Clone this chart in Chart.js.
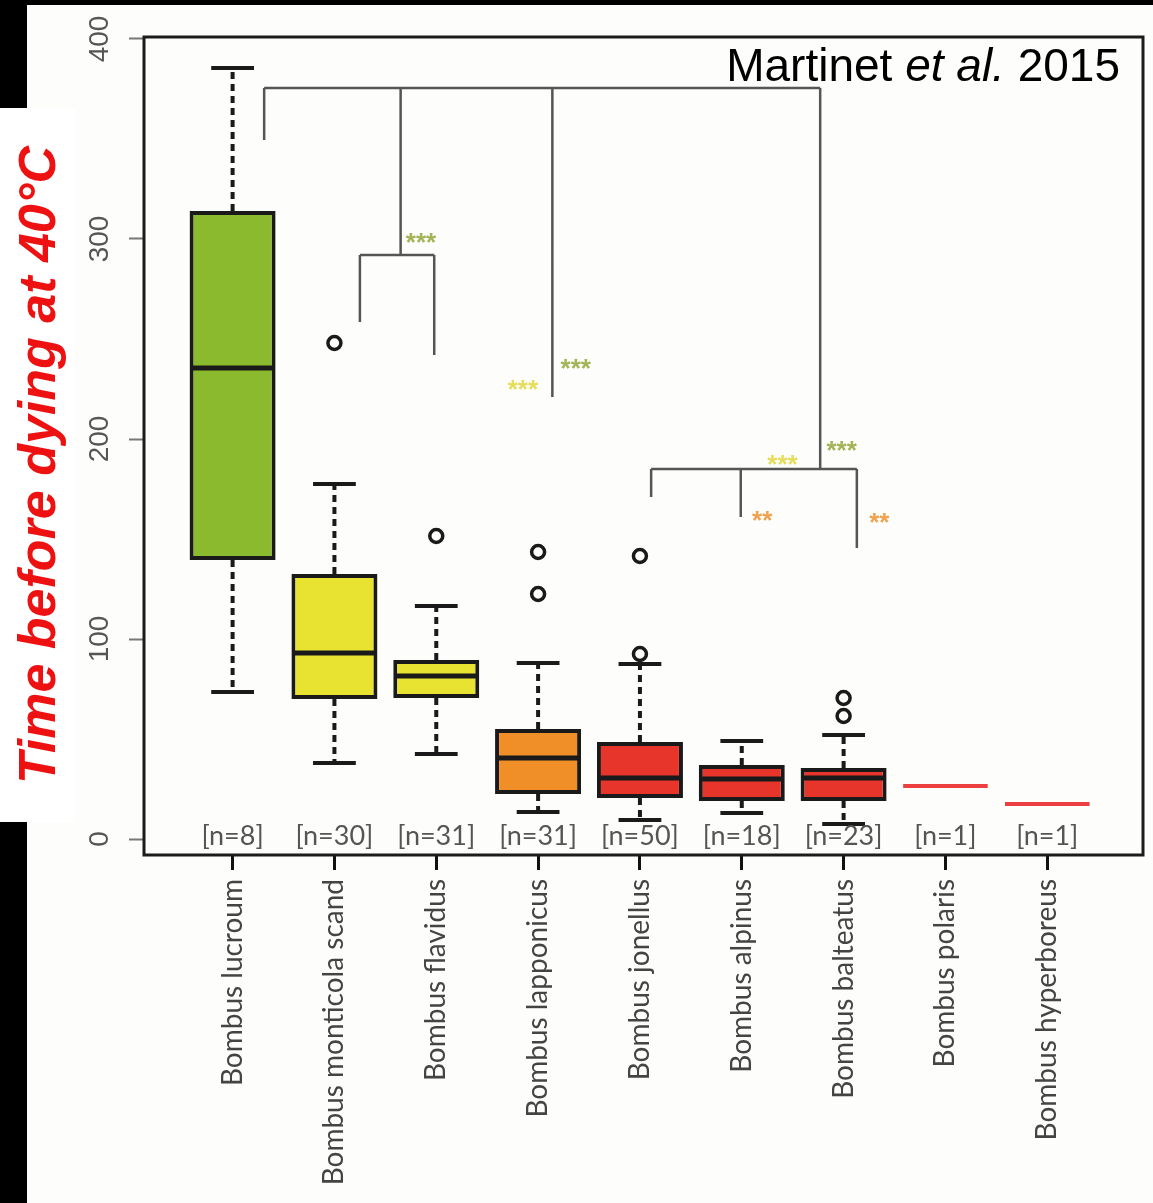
<!DOCTYPE html>
<html>
<head>
<meta charset="utf-8">
<script src="https://cdn.jsdelivr.net/npm/chart.js@4/dist/chart.umd.min.js"></script>
<style>
  html, body { margin: 0; padding: 0; background: #fdfdfb; }
  #wrap { width: 1153px; height: 1203px; position: relative; }
  canvas { display: block; }
</style>
</head>
<body>
<div id="wrap"><canvas id="c" width="1153" height="1203" style="width:1153px;height:1203px"></canvas></div>
<script>
// Survival time (minutes) before dying at 40°C, per bumblebee species
const species = [
  'Bombus lucroum', 'Bombus monticola scand', 'Bombus flavidus', 'Bombus lapponicus',
  'Bombus jonellus', 'Bombus alpinus', 'Bombus balteatus', 'Bombus polaris', 'Bombus hyperboreus'
];
const sampleSizes   = [8, 30, 31, 31, 50, 18, 23, 1, 1];
const lowerWhisker  = [73.5, 38, 42.5, 13.5, 9.5, 13, 7.5, null, null];
const lowerQuartile = [139.5, 70, 70.5, 22.5, 20.5, 19, 19, null, null];
const medians       = [235.5, 93, 81.5, 40.5, 30.5, 30, 30.5, 26.5, 17.5];
const upperQuartile = [314, 132.5, 89.5, 55, 48.5, 37, 35.5, null, null];
const upperWhisker  = [385.5, 177.5, 116.5, 88, 87.5, 49, 52, null, null];
const outliers      = [[], [248], [151.5], [143.5, 122.5], [141.5, 92.5], [], [70.5, 61.5], [], []];
const boxColors     = ['#8cba2e', '#e8e230', '#e8e230', '#f08f28', '#e8352c', '#e8352c', '#e8352c', '#ec4040', '#ec4040'];
const yTicks        = [0, 100, 200, 300, 400];

// Significance brackets: segments given as [x1, y1, x2, y2] in category / value units
const bracketSegments = [
  [1.31, 375.5, 6.77, 375.5],
  [1.31, 375.5, 1.31, 349.5],
  [2.65, 375.5, 2.65, 292],
  [4.14, 375.5, 4.14, 221],
  [6.77, 375.5, 6.77, 185],
  [2.25, 292, 2.98, 292],
  [2.25, 292, 2.25, 258.5],
  [2.98, 292, 2.98, 242],
  [5.11, 185, 7.13, 185],
  [5.11, 185, 5.11, 171],
  [5.99, 185, 5.99, 161],
  [7.13, 185, 7.13, 145.5]
];
const starLabels = [
  { x: 2.85, y: 301,   text: '***', color: '#a2b456' },
  { x: 3.85, y: 227.5, text: '***', color: '#e6de5a' },
  { x: 4.37, y: 238,   text: '***', color: '#a2b456' },
  { x: 6.40, y: 190,   text: '***', color: '#e6de5a' },
  { x: 6.98, y: 197,   text: '***', color: '#a2b456' },
  { x: 6.20, y: 162,   text: '**',  color: '#f0a24e' },
  { x: 7.35, y: 161,   text: '**',  color: '#f0a24e' }
];

const boxData = [];
species.forEach((s, i) => {
  if (lowerQuartile[i] !== null) boxData.push({ x: i + 1, y: [lowerQuartile[i], upperQuartile[i]] });
});
const outlierPoints = [];
outliers.forEach((list, i) => list.forEach(v => outlierPoints.push({ x: i + 1, y: v })));

const BOX_W = 0.83;   // box width in category units
const CAP_W = 0.42;   // whisker cap width in category units

const pagePlugin = {
  id: 'page',
  beforeDraw(chart) {
    const ctx = chart.ctx;
    ctx.save();
    ctx.fillStyle = '#fdfdfb';
    ctx.fillRect(0, 0, chart.width, chart.height);
    ctx.fillStyle = '#000';
    ctx.fillRect(0, 0, chart.width, 5);
    ctx.fillRect(0, 0, 27, 108);
    ctx.fillRect(0, 822, 27, chart.height - 822);
    ctx.fillStyle = '#ffffff';
    ctx.fillRect(0, 108, 75, 714);
    ctx.restore();
  }
};

const boxPlugin = {
  id: 'boxParts',
  beforeDatasetsDraw(chart) {
    const { ctx, scales: { x, y } } = chart;
    ctx.save();
    ctx.strokeStyle = '#1a1a1a';
    ctx.lineWidth = 4;
    species.forEach((s, i) => {
      if (lowerQuartile[i] === null) return;
      const cx = x.getPixelForValue(i + 1);
      const hw = (x.getPixelForValue(i + 1 + CAP_W / 2) - cx);
      ctx.setLineDash([7, 5]);
      ctx.beginPath();
      ctx.moveTo(cx, y.getPixelForValue(upperQuartile[i]));
      ctx.lineTo(cx, y.getPixelForValue(upperWhisker[i]));
      ctx.moveTo(cx, y.getPixelForValue(lowerQuartile[i]));
      ctx.lineTo(cx, y.getPixelForValue(lowerWhisker[i]));
      ctx.stroke();
      ctx.setLineDash([]);
      ctx.beginPath();
      ctx.moveTo(cx - hw, y.getPixelForValue(upperWhisker[i]));
      ctx.lineTo(cx + hw, y.getPixelForValue(upperWhisker[i]));
      ctx.moveTo(cx - hw, y.getPixelForValue(lowerWhisker[i]));
      ctx.lineTo(cx + hw, y.getPixelForValue(lowerWhisker[i]));
      ctx.stroke();
    });
    ctx.restore();
  },
  afterDatasetsDraw(chart) {
    const { ctx, scales: { x, y }, chartArea } = chart;
    ctx.save();
    // medians
    species.forEach((s, i) => {
      const cx = x.getPixelForValue(i + 1);
      const hw = x.getPixelForValue(i + 1 + BOX_W / 2) - cx;
      const py = y.getPixelForValue(medians[i]);
      const single = lowerQuartile[i] === null;
      ctx.strokeStyle = single ? boxColors[i] : '#1a1a1a';
      ctx.lineWidth = single ? 4 : 5;
      ctx.beginPath();
      ctx.moveTo(cx - hw + (single ? 0 : 2), py);
      ctx.lineTo(cx + hw - (single ? 0 : 2), py);
      ctx.stroke();
    });
    // brackets
    ctx.strokeStyle = '#555';
    ctx.lineWidth = 2.5;
    ctx.beginPath();
    bracketSegments.forEach(([x1, y1, x2, y2]) => {
      ctx.moveTo(x.getPixelForValue(x1), y.getPixelForValue(y1));
      ctx.lineTo(x.getPixelForValue(x2), y.getPixelForValue(y2));
    });
    ctx.stroke();
    // significance stars
    ctx.font = 'bold 26px "Liberation Sans", Arial, sans-serif';
    ctx.textAlign = 'center';
    ctx.textBaseline = 'middle';
    starLabels.forEach(st => {
      ctx.fillStyle = st.color;
      ctx.fillText(st.text, x.getPixelForValue(st.x), y.getPixelForValue(st.y) + 7);
    });
    // sample sizes
    ctx.fillStyle = '#555';
    ctx.font = '27px Lato, "Open Sans", sans-serif';
    sampleSizes.forEach((n, i) => {
      ctx.fillText('[n=' + n + ']', x.getPixelForValue(i + 1), y.getPixelForValue(1.5));
    });
    // frame
    ctx.strokeStyle = '#1c1c1c';
    ctx.lineWidth = 3;
    ctx.strokeRect(chartArea.left, chartArea.top, chartArea.right - chartArea.left, chartArea.bottom - chartArea.top);
    ctx.restore();
  },
  afterDraw(chart) {
    const { ctx, scales: { y } } = chart;
    ctx.save();
    // y tick labels, rotated
    ctx.fillStyle = '#555';
    ctx.font = '28px "Liberation Sans", Arial, sans-serif';
    ctx.textAlign = 'center';
    ctx.textBaseline = 'alphabetic';
    y.ticks.forEach(t => {
      ctx.save();
      ctx.translate(108, y.getPixelForValue(t.value));
      ctx.rotate(-Math.PI / 2);
      ctx.fillText(String(t.value), 0, 0);
      ctx.restore();
    });
    // y axis title
    ctx.save();
    ctx.fillStyle = '#ee1111';
    ctx.font = 'italic bold 52px "Liberation Sans", Arial, sans-serif';
    ctx.translate(55, 465);
    ctx.rotate(-Math.PI / 2);
    ctx.fillText('Time before dying at 40°C', 0, 0);
    ctx.restore();
    // citation
    const parts = [
      { t: 'Martinet ', f: '46px "Liberation Sans", Arial, sans-serif' },
      { t: 'et al.', f: 'italic 46px "Liberation Sans", Arial, sans-serif' },
      { t: ' 2015', f: '46px "Liberation Sans", Arial, sans-serif' }
    ];
    ctx.fillStyle = '#000';
    ctx.textAlign = 'left';
    let total = 0;
    parts.forEach(p => { ctx.font = p.f; p.w = ctx.measureText(p.t).width; total += p.w; });
    let cx = 1120 - total;
    parts.forEach(p => { ctx.font = p.f; ctx.fillText(p.t, cx, 81); cx += p.w; });
    ctx.restore();
  }
};

new Chart(document.getElementById('c'), {
  data: {
    datasets: [
      {
        type: 'bar',
        data: boxData,
        backgroundColor: boxColors.slice(0, boxData.length),
        borderColor: '#1a1a1a',
        borderWidth: 4,
        borderSkipped: false,
        barThickness: 86,
        inflateAmount: 0,
        order: 2
      },
      {
        type: 'scatter',
        data: outlierPoints,
        pointStyle: 'circle',
        pointRadius: 6.5,
        pointBorderWidth: 3.5,
        pointBorderColor: '#1a1a1a',
        pointBackgroundColor: 'rgba(0,0,0,0)',
        order: 1
      }
    ]
  },
  options: {
    responsive: false,
    animation: false,
    devicePixelRatio: 1,
    layout: { padding: { top: 37, right: 5, left: 0, bottom: 0 } },
    plugins: { legend: { display: false }, tooltip: { enabled: false } },
    scales: {
      x: {
        type: 'linear',
        offset: false,
        min: 0.13,
        max: 9.94,
        afterBuildTicks: s => { s.ticks = species.map((_, i) => ({ value: i + 1 })); },
        afterFit: s => { s.height = 1203 - 855; },
        ticks: {
          callback: v => species[v - 1],
          minRotation: 90,
          maxRotation: 90,
          autoSkip: false,
          padding: 9,
          color: '#444',
          font: { family: 'Lato, "Open Sans", sans-serif', size: 28 }
        },
        grid: { offset: false, drawOnChartArea: false, drawTicks: true, tickLength: 15, tickColor: '#111', tickWidth: 3 },
        border: { display: false }
      },
      y: {
        min: -8,
        max: 401,
        afterBuildTicks: s => { s.ticks = yTicks.map(v => ({ value: v })); },
        afterFit: s => { s.width = 144; },
        ticks: { display: false },
        grid: { drawOnChartArea: false, drawTicks: true, tickLength: 15, tickColor: '#777', tickWidth: 2 },
        border: { display: false }
      }
    }
  },
  plugins: [pagePlugin, boxPlugin]
});
</script>
</body>
</html>
